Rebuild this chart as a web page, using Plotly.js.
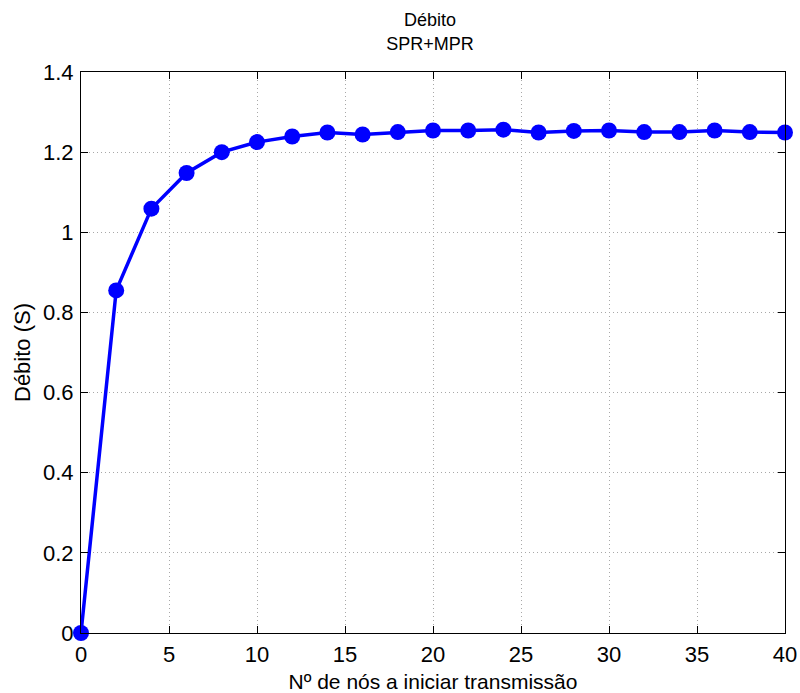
<!DOCTYPE html>
<html>
<head>
<meta charset="utf-8">
<script src="https://cdn.plot.ly/plotly-3.0.1.min.js"></script>
<style>html,body{margin:0;padding:0;background:#fff;}#chart{width:800px;height:693px;}</style>
</head>
<body>
<div id="chart"></div>
<script>
const nodes = [0, 2, 4, 6, 8, 10, 12, 14, 16, 18, 20, 22, 24, 26, 28, 30, 32, 34, 36, 38, 40];
const debito = [0, 0.855, 1.059, 1.148, 1.200, 1.225, 1.239, 1.249, 1.244, 1.250, 1.254, 1.254, 1.256, 1.249, 1.253, 1.254, 1.250, 1.250, 1.254, 1.250, 1.249];
const xTicks = [0, 5, 10, 15, 20, 25, 30, 35, 40];
const yTicks = [0, 0.2, 0.4, 0.6, 0.8, 1, 1.2, 1.4];
const yTickLabels = ['0', '0.2', '0.4', '0.6', '0.8', '1', '1.2', '1.4'];

const font = 'Liberation Sans, Arial, sans-serif';

const trace = {
  x: nodes, y: debito, type: 'scatter', mode: 'lines+markers',
  line: {color: '#0000ff', width: 3.5},
  marker: {color: '#0000ff', size: 16, line: {width: 0}},
  cliponaxis: false
};

const axisCommon = {
  showline: true, linecolor: '#000', linewidth: 1, mirror: 'ticks',
  ticks: 'inside', ticklen: 7, tickcolor: '#000', tickwidth: 1,
  showgrid: true, gridcolor: '#a8a8a8', griddash: '1px,3px', gridwidth: 1,
  zeroline: false, tickfont: {family: font, size: 22, color: '#000'}
};

const layout = {
  width: 800, height: 693,
  margin: {l: 81, r: 15, t: 72, b: 60},
  paper_bgcolor: '#fff', plot_bgcolor: '#fff',
  showlegend: false,
  title: {text: 'Débito<br>SPR+MPR', font: {family: font, size: 18, color: '#000'},
          x: 0.5375, xanchor: 'center', yref: 'container', y: 0.962, yanchor: 'middle'},
  xaxis: Object.assign({}, axisCommon, {
    range: [0, 40], tickvals: xTicks, ticktext: xTicks.map(String),
    ticklabelstandoff: 2,
    title: {text: 'Nº de nós a iniciar transmissão', font: {family: font, size: 21, color: '#000'}, standoff: 8}
  }),
  yaxis: Object.assign({}, axisCommon, {
    range: [0, 1.4], tickvals: yTicks, ticktext: yTickLabels,
    ticklabelstandoff: 2,
    title: {text: 'Débito (S)', font: {family: font, size: 22, color: '#000'}, standoff: 6}
  })
};

Plotly.newPlot('chart', [trace], layout, {staticPlot: true, displayModeBar: false});
</script>
</body>
</html>
